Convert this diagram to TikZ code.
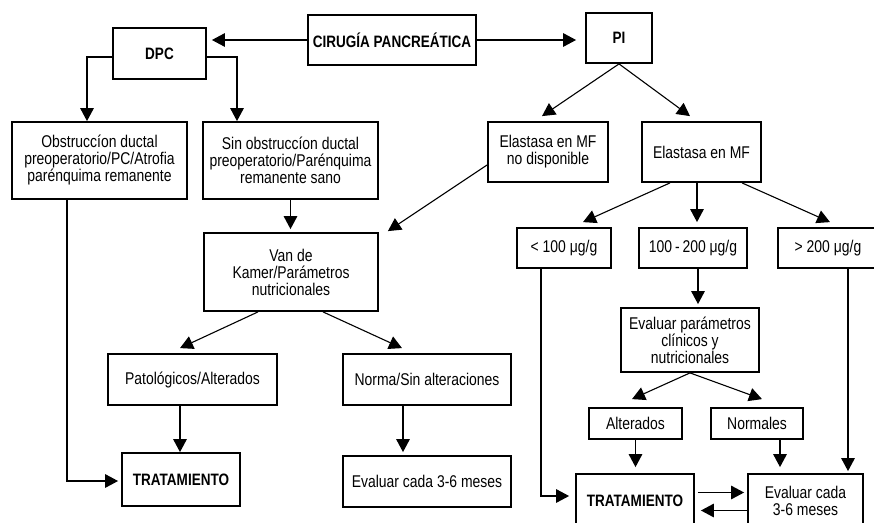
\documentclass[tikz,border=0pt]{standalone}
\usepackage{fontspec}
\setmainfont{Liberation Sans}[FakeStretch=0.82]
\usetikzlibrary{arrows.meta}

\tikzset{
  box/.style={draw, line width=1.8pt, align=center, inner sep=0pt,
    font=\fontsize{17}{17}\selectfont},
  hbox/.style={box, font=\fontsize{16.5}{17}\selectfont\bfseries},
  sz/.style 2 args={minimum width=#1pt, minimum height=#2pt},
  conn/.style={line width=1.4pt, -{Triangle[length=13pt,width=13.5pt]}},
}

\begin{document}
\begin{tikzpicture}[x=1pt,y=-1pt]
\useasboundingbox (0,0) rectangle (874,522);
\clip (0,0) rectangle (874,522);
% top row
\node[hbox, sz={168}{50}] (cir) at (392,40) {CIRUGÍA PANCREÁTICA};
\node[hbox, sz={93}{51}] (dpc) at (159.5,53.5) {DPC};
\node[hbox, sz={66}{50}] (pi) at (619,38) {PI};
% left branch
\node[box, sz={175}{77}] (obs) at (99.5,160.5) {Obstruccíon ductal\\preoperatorio/PC/Atrofia\\parénquima remanente};
\node[box, sz={175}{77}] (sin) at (290.5,160.5) {Sin obstruccíon ductal\\preoperatorio/Parénquima\\remanente sano};
\node[box, sz={174}{78}] (van) at (291,272) {Van de\\Kamer/Parámetros\\nutricionales};
\node[box, sz={169}{51}] (pat) at (192.5,379.5) {Patológicos/Alterados};
\node[box, sz={168}{51}] (norm) at (427,379.5) {Norma/Sin alteraciones};
\node[hbox, sz={118}{53}] (trl) at (181,479.5) {TRATAMIENTO};
\node[box, sz={168}{51}] (evl) at (427,481.5) {Evaluar cada 3-6 meses};
% right branch
\node[box, sz={120}{60}] (elno) at (548,152) {Elastasa en MF\\no disponible};
\node[box, sz={119}{60}] (elmf) at (701.5,152) {Elastasa en MF};
\node[box, sz={94}{40}] (lt) at (564,248) {< 100 μg/g};
\node[box, sz={108}{40}] (mid) at (693,248) {100\,-\,200 μg/g};
\node[box, sz={100}{40}] (gt) at (828,248) {> 200 μg/g};
\node[box, sz={138}{64}] (evp) at (690,340) {Evaluar parámetros\\clínicos y\\nutricionales};
\node[box, sz={93}{31}] (alt) at (635.5,423.5) {Alterados};
\node[box, sz={92}{31}] (nor) at (757,423.5) {Normales};
\node[hbox, sz={118}{53}] (trr) at (635,500.5) {TRATAMIENTO};
\node[box, sz={115}{53}] (evr) at (805.5,500.5) {Evaluar cada\\3-6 meses};

% connectors, top
\draw[conn, shorten >=5pt] (cir.west) -- (cir.west -| dpc.east);
\draw[conn, shorten >=9pt] (cir.east) -- (cir.east -| pi.west);
\draw[conn] ([yshift=-3.5pt]dpc.west) -| ([xshift=-12.5pt]obs.north);
\draw[conn] ([yshift=-3.5pt]dpc.east) -| ([xshift=-53.5pt]sin.north);
\draw[conn, shorten >=3pt] (sin.south) -- (sin.south |- van.north);
\draw[conn, line width=1.1pt] ([yshift=-13pt]elno.west) -- ([xshift=9pt,yshift=1pt]van.north east);
\draw[conn, line width=1.1pt] (pi.south) -- ([xshift=-6pt,yshift=5pt]elno.north);
\draw[conn, line width=1.1pt] (pi.south) -- ([xshift=-11.5pt,yshift=5pt]elmf.north);
% left branch
\draw[conn, line width=1.1pt] ([xshift=-33pt]van.south) -- ([xshift=-12.5pt,yshift=5pt]pat.north);
\draw[conn, line width=1.1pt] ([xshift=32pt]van.south) -- ([xshift=-25pt,yshift=5pt]norm.north);
\draw[conn] ([xshift=-12.5pt]pat.south) -- ([xshift=-12.5pt]pat.south |- trl.north);
\draw[conn, shorten >=3pt] ([xshift=-24pt]norm.south) -- ([xshift=-24pt]norm.south |- evl.north);
\draw[conn, shorten >=3pt] ([xshift=-32.5pt]obs.south) |- ([yshift=-1.5pt]trl.west);
% right branch
\draw[conn, line width=1.1pt] ([xshift=-31.5pt]elmf.south) -- ([xshift=19pt,yshift=5pt]lt.north);
\draw[conn, shorten >=5pt] ([xshift=-4.5pt]elmf.south) -- ([xshift=-4.5pt]elmf.south |- mid.north);
\draw[conn, line width=1.1pt] ([xshift=40.5pt]elmf.south) -- ([xshift=2pt,yshift=5pt]gt.north);
\draw[conn, shorten >=3pt] ([xshift=5pt]mid.south) -- ([xshift=5pt]mid.south |- evp.north);
\draw[conn, line width=1.1pt] (evp.south) -- ([xshift=-3.5pt,yshift=8pt]alt.north);
\draw[conn, line width=1.1pt] (evp.south) -- ([xshift=5pt,yshift=8pt]nor.north);
\draw[conn, shorten >=6pt] (alt.south) -- (alt.south |- trr.north);
\draw[conn, shorten >=6pt] ([xshift=23pt]nor.south) -- ([xshift=23pt]nor.south |- evr.north);
\draw[conn, shorten >=2pt] ([xshift=20pt]gt.south) -- ([xshift=20pt]gt.south |- evr.north);
\draw[conn, shorten >=6pt] ([xshift=-23pt]lt.south) |- ([yshift=4.5pt]trr.west);
\draw[conn, shorten <=3pt, shorten >=3pt] ([yshift=8pt]trr.east) -- ([yshift=8pt]evr.west);
\draw[conn, shorten >=6pt] ([yshift=-10pt]evr.west) -- ([yshift=-10pt]trr.east);
\end{tikzpicture}
\end{document}
